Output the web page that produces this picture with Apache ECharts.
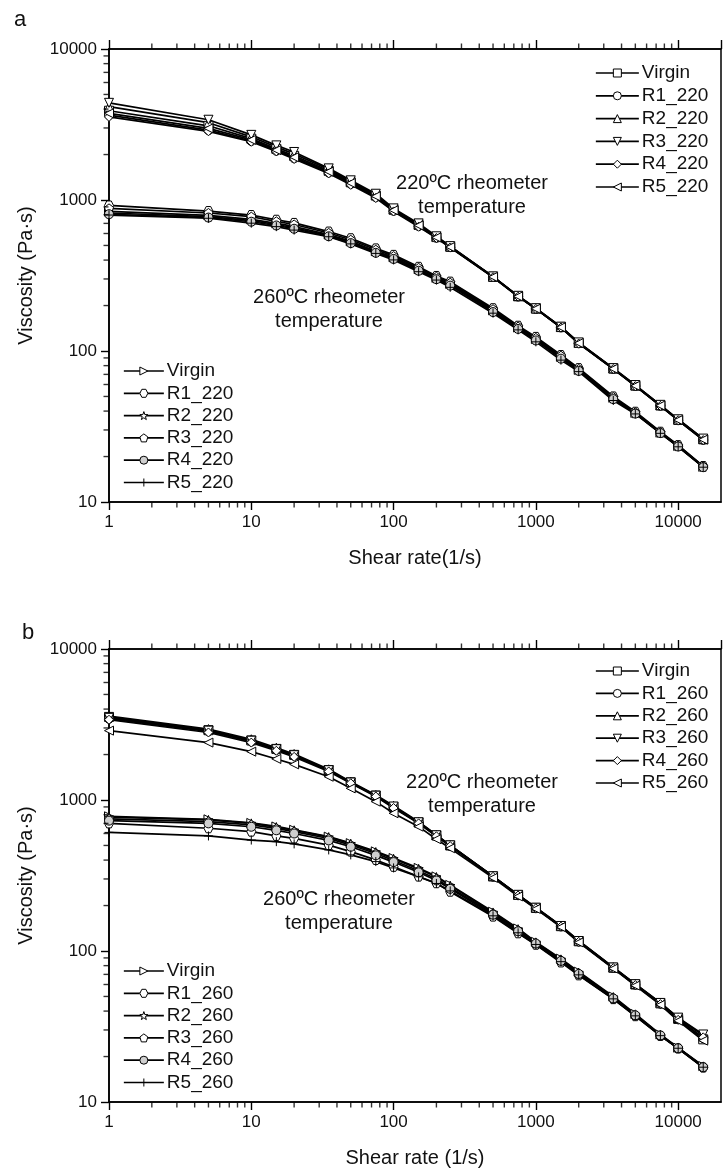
<!DOCTYPE html>
<html>
<head>
<meta charset="utf-8">
<script src="https://cdn.jsdelivr.net/npm/echarts@6/dist/echarts.min.js"></script>
<style>
  html, body { margin: 0; padding: 0; background: #fff; }
  #chart { width: 723px; height: 1171px; }
</style>
</head>
<body>
<div id="chart"></div>
<script>
// Shear rates (1/s) shared by every curve
const shearRate = [1, 5, 10, 15, 20, 35, 50, 75, 100, 150, 200, 250, 500, 750, 1000, 1500, 2000, 3500, 5000, 7500, 10000, 15000];

// Panel a – samples reprocessed at 220 °C
const legendNamesA = ['Virgin', 'R1_220', 'R2_220', 'R3_220', 'R4_220', 'R5_220'];
// measured at 220 °C
const a220_virgin = [3900, 3100, 2550, 2180, 1960, 1560, 1310, 1070, 862, 684, 568, 490, 310, 230.5, 191, 144, 113, 76.5, 59, 43.6, 35, 26];
const a220_r1 = [3650, 2900, 2460, 2120, 1890, 1520, 1280, 1045, 848, 672, 562, 487, 309, 229.5, 190, 143.2, 112.5, 76.2, 58.7, 43.4, 34.8, 25.8];
const a220_r2 = [4150, 3250, 2620, 2240, 2020, 1590, 1330, 1085, 870, 690, 572, 493, 311, 231, 191.5, 144.5, 113.5, 76.8, 59.3, 43.8, 35.2, 26.2];
const a220_r3 = [4400, 3400, 2700, 2300, 2080, 1620, 1350, 1100, 880, 700, 575, 495, 312, 232, 192, 145, 114, 77, 59.5, 44, 35.3, 26.3];
const a220_r4 = [3550, 2850, 2430, 2100, 1870, 1500, 1260, 1030, 840, 665, 560, 485, 308, 229, 190, 143, 112, 76, 58.5, 43.3, 34.8, 25.7];
const a220_r5 = [3750, 2980, 2500, 2140, 1920, 1540, 1295, 1058, 855, 678, 565, 488, 309.5, 230, 190.5, 143.5, 112.8, 76.3, 58.8, 43.5, 34.9, 25.9];
// measured at 260 °C
const a260_virgin = [840, 790, 745, 700, 668, 590, 532, 458, 417, 348, 305, 278, 186, 143, 120, 91.5, 75, 49, 38.9, 28.8, 23.5, 17.1];
const a260_r1 = [920, 845, 795, 740, 705, 618, 558, 478, 433, 361, 314, 288, 192, 147, 124, 94, 77, 50, 39.6, 29.2, 23.8, 17.3];
const a260_r2 = [820, 775, 730, 688, 655, 582, 525, 452, 412, 344, 302, 275, 184, 141.5, 119, 90.5, 74.5, 48.5, 38.7, 28.7, 23.4, 17.1];
const a260_r3 = [880, 820, 775, 722, 688, 605, 545, 468, 425, 355, 310, 283, 189, 145, 122, 93, 76, 49.5, 39.2, 29, 23.6, 17.2];
const a260_r4 = [805, 765, 718, 678, 645, 575, 518, 447, 407, 340, 299, 271, 181, 140, 117.5, 89, 73.8, 48, 38.5, 28.6, 23.3, 17.0];
const a260_r5 = [795, 757, 702, 666, 632, 571, 512, 443, 401, 335, 295, 264, 178, 138, 115, 87, 73, 47, 38.3, 28.5, 23.2, 17.0];

// Panel b – samples reprocessed at 260 °C
const legendNamesB = ['Virgin', 'R1_260', 'R2_260', 'R3_260', 'R4_260', 'R5_260'];
// measured at 220 °C
const b220_virgin = [3550, 2900, 2480, 2180, 1990, 1580, 1310, 1070, 900, 710, 582, 500, 312, 235, 193, 146, 116, 77.5, 60, 45, 35.5, 26];
const b220_r1 = [3450, 2850, 2440, 2150, 1960, 1560, 1300, 1062, 895, 705, 578, 497, 311, 234, 192, 145.5, 115.5, 77.2, 59.8, 44.8, 35.4, 26.5];
const b220_r2 = [3600, 2950, 2525, 2220, 2017, 1597, 1321, 1079, 915, 718, 586, 503, 313, 236, 194, 147, 117, 78, 60.5, 45.5, 36, 27.5];
const b220_r3 = [3500, 2880, 2470, 2170, 1980, 1575, 1305, 1068, 905, 712, 584, 501, 312.5, 235.5, 193.5, 146.5, 116.5, 77.8, 60.3, 45.3, 36.2, 28];
const b220_r4 = [3400, 2800, 2400, 2120, 1930, 1545, 1290, 1055, 885, 700, 575, 495, 310, 233, 192, 145, 115, 77, 59.5, 44.5, 35, 26.8];
const b220_r5 = [2880, 2400, 2090, 1870, 1722, 1426, 1194, 975, 817, 666, 550, 479, 305, 230, 190, 144, 114, 76.5, 59, 44, 34.5, 25.5];
// measured at 260 °C
const b260_virgin = [780, 745, 705, 668, 635, 572, 518, 457, 413, 355, 312, 274, 182, 141, 115, 89, 73, 50, 38.3, 28, 22.9, 17.3];
const b260_r1 = [700, 650, 617, 578, 557, 503, 455, 401, 361, 311, 281, 247, 169, 131, 110, 84, 69, 48, 37, 27.4, 22.6, 16.9];
const b260_r2 = [770, 738, 700, 662, 630, 568, 514, 452, 408, 350, 309, 271, 180, 139.5, 114, 88, 72, 49.5, 38, 27.8, 22.8, 17.2];
const b260_r3 = [750, 720, 685, 648, 617, 556, 503, 442, 398, 340, 300, 263, 177, 137, 113, 87, 71, 49, 37.8, 27.7, 22.8, 17.1];
const b260_r4 = [730, 700, 665, 630, 600, 540, 490, 430, 388, 332, 293, 258, 174, 135, 112, 86, 70.5, 48.5, 37.5, 27.6, 22.7, 17.0];
const b260_r5 = [610, 578, 543, 530, 512, 467, 433, 391, 355, 310, 280, 250, 171, 132, 110.5, 85, 69.5, 48.2, 37.2, 27.5, 22.7, 17.0];

// Axis ranges and tick labels
const xMin = 1, xMax = 20000;
const yMin = 10, yMax = 10000;
const minorSteps = [2, 3, 4, 5, 6, 7, 8, 9];

// Marker shapes
const SYM = {
  square: 'rect',
  circle: 'circle',
  triUp: 'triangle',
  triDown: 'path://M0,0L10,0L5,9Z',
  diamond: 'diamond',
  triLeft: 'path://M9,0L9,10L0,5Z',
  triRight: 'path://M0,0L0,10L9,5Z',
  hexagon: 'path://M2.5,0L7.5,0L10,5L7.5,10L2.5,10L0,5Z',
  star: 'path://M5,0L6.18,3.38L9.76,3.45L6.9,5.62L7.94,9.05L5,7L2.06,9.05L3.1,5.62L0.24,3.45L3.82,3.38Z',
  pentagon: 'path://M5,0L10,3.8L8.1,10L1.9,10L0,3.8Z',
  plus: 'path://M5,0L5,10M0,5L10,5'
};
const symUpper = [SYM.square, SYM.circle, SYM.triUp, SYM.triDown, SYM.diamond, SYM.triLeft];
const symLower = [SYM.triRight, SYM.hexagon, SYM.star, SYM.pentagon, SYM.circle, SYM.plus];
const fillLower = ['#fff', '#fff', '#fff', '#fff', '#cfcfcf', '#fff'];

const FONT = '"Liberation Sans", Arial, Helvetica, sans-serif';
const INK = '#111';

function minorValues(lo, hi) {
  const out = [];
  for (let d = lo; d < hi; d *= 10) {
    for (const k of minorSteps) {
      const v = k * d;
      if (v < hi) out.push(v);
    }
  }
  return out;
}
const xMinor = minorValues(xMin, xMax);
const yMinor = minorValues(yMin, yMax);

function pair(values) {
  return shearRate.map((x, i) => [x, values[i]]);
}

function curve(id, label, values, symbol, xi, yi, fill) {
  return {
    type: 'line',
    name: id + '|' + label,
    xAxisIndex: xi,
    yAxisIndex: yi,
    data: pair(values),
    symbol: symbol,
    symbolSize: 9,
    showSymbol: true,
    lineStyle: { color: '#000', width: 1.7 },
    itemStyle: { color: fill || '#fff', borderColor: '#000', borderWidth: 1 },
    emphasis: { disabled: true },
    silent: true,
    z: 3
  };
}

// Minor ticks of the log axes, drawn outside the frame
function tickMarks(xi, yi) {
  const base = {
    type: 'scatter', xAxisIndex: xi, yAxisIndex: yi, silent: true, clip: false,
    symbol: 'rect', itemStyle: { color: '#000' }, z: 5, emphasis: { disabled: true }
  };
  return [
    Object.assign({}, base, { data: xMinor.map(v => [v, yMin]), symbolSize: [1.4, 5], symbolOffset: [0, 3] }),
    Object.assign({}, base, { data: xMinor.map(v => [v, yMax]), symbolSize: [1.4, 5], symbolOffset: [0, -3] }),
    Object.assign({}, base, { data: yMinor.map(v => [xMin, v]), symbolSize: [5, 1.4], symbolOffset: [-3, 0] })
  ];
}

const series = [];
const panels = [
  { key: 'a', names: legendNamesA, xi: 0, yi: 0,
    upper: [a220_virgin, a220_r1, a220_r2, a220_r3, a220_r4, a220_r5],
    lower: [a260_virgin, a260_r1, a260_r2, a260_r3, a260_r4, a260_r5] },
  { key: 'b', names: legendNamesB, xi: 2, yi: 1,
    upper: [b220_virgin, b220_r1, b220_r2, b220_r3, b220_r4, b220_r5],
    lower: [b260_virgin, b260_r1, b260_r2, b260_r3, b260_r4, b260_r5] }
];
panels.forEach(p => {
  p.lower.forEach((vals, i) => series.push(curve(p.key + '260', p.names[i], vals, symLower[i], p.xi, p.yi, fillLower[i])));
  p.upper.forEach((vals, i) => series.push(curve(p.key + '220', p.names[i], vals, symUpper[i], p.xi, p.yi)));
  tickMarks(p.xi, p.yi).forEach(s => series.push(s));
});

const GRID_LEFT = 109, GRID_W = 612, GRID_H = 453;
const grids = [
  { left: GRID_LEFT, top: 49, width: GRID_W, height: GRID_H, show: true, borderColor: '#000', borderWidth: 1.5, backgroundColor: 'transparent' },
  { left: GRID_LEFT, top: 649, width: GRID_W, height: GRID_H, show: true, borderColor: '#000', borderWidth: 1.5, backgroundColor: 'transparent' }
];

function bottomAxis(gridIndex, title) {
  return {
    type: 'log', logBase: 10, gridIndex, min: xMin, max: xMax, position: 'bottom',
    axisLine: { show: true, lineStyle: { color: '#000', width: 1.6 } },
    axisTick: { show: true, inside: false, length: 8, lineStyle: { color: '#000', width: 1.4 } },
    axisLabel: { show: true, color: INK, fontFamily: FONT, fontSize: 17, margin: 12, showMaxLabel: false,
      formatter: v => String(Math.round(v)) },
    splitLine: { show: false },
    name: title, nameLocation: 'middle', nameGap: 46,
    nameTextStyle: { color: INK, fontFamily: FONT, fontSize: 20 }
  };
}
function topAxis(gridIndex) {
  return {
    type: 'log', logBase: 10, gridIndex, min: xMin, max: xMax, position: 'top',
    axisLine: { show: true, lineStyle: { color: '#000', width: 1.6 } },
    axisTick: { show: true, inside: false, length: 9, lineStyle: { color: '#000', width: 1.4 } },
    axisLabel: { show: false },
    splitLine: { show: false }
  };
}
function leftAxis(gridIndex) {
  return {
    type: 'log', logBase: 10, gridIndex, min: yMin, max: yMax,
    axisLine: { show: true, lineStyle: { color: '#000', width: 1.6 } },
    axisTick: { show: true, inside: false, length: 8, lineStyle: { color: '#000', width: 1.4 } },
    axisLabel: { show: true, color: INK, fontFamily: FONT, fontSize: 17, margin: 12,
      formatter: v => String(Math.round(v)) },
    splitLine: { show: false },
    name: 'Viscosity (Pa·s)', nameLocation: 'middle', nameGap: 73,
    nameTextStyle: { color: INK, fontFamily: FONT, fontSize: 20 }
  };
}

function legend(prefix, names, left, top, itemWidth, gap) {
  return {
    orient: 'vertical', left, top, padding: 0, itemWidth, itemHeight: 10, itemGap: gap,
    selectedMode: false, align: 'left',
    data: names.map(n => prefix + '|' + n),
    formatter: name => name.split('|')[1],
    textStyle: { color: INK, fontFamily: FONT, fontSize: 19, lineHeight: 20, padding: [0, 0, 0, -2] },
    itemStyle: { borderWidth: 1 },
    lineStyle: { width: 1.7 }
  };
}

function note(x, y, text) {
  return {
    type: 'text', x, y, z: 10, silent: true,
    style: { text, fill: INK, font: '20px ' + FONT, align: 'center', verticalAlign: 'middle', lineHeight: 24 }
  };
}

const chart = echarts.init(document.getElementById('chart'), null, { renderer: 'canvas' });
chart.setOption({
  backgroundColor: '#fff',
  animation: false,
  grid: grids,
  xAxis: [bottomAxis(0, 'Shear rate(1/s)'), topAxis(0), bottomAxis(1, 'Shear rate (1/s)'), topAxis(1)],
  yAxis: [leftAxis(0), leftAxis(1)],
  legend: [
    legend('a220', legendNamesA, 595, 63, 43, 2.8),
    legend('a260', legendNamesA, 123, 361, 40, 2.3),
    legend('b220', legendNamesB, 595, 661, 43, 2.4),
    legend('b260', legendNamesB, 123, 961, 40, 2.3)
  ],
  graphic: [
    { type: 'text', x: 20, y: 20, silent: true, style: { text: 'a', fill: INK, font: '22px ' + FONT, align: 'center', verticalAlign: 'middle' } },
    { type: 'text', x: 28, y: 633, silent: true, style: { text: 'b', fill: INK, font: '22px ' + FONT, align: 'center', verticalAlign: 'middle' } },
    note(472, 195, '220ºC rheometer\ntemperature'),
    note(329, 309, '260ºC rheometer\ntemperature'),
    note(482, 794, '220ºC rheometer\ntemperature'),
    note(339, 911, '260ºC rheometer\ntemperature')
  ],
  series
});
</script>
</body>
</html>
